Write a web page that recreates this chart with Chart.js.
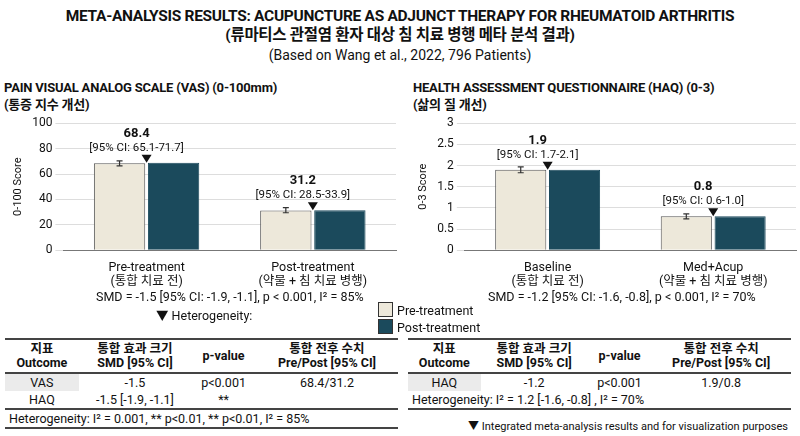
<!DOCTYPE html>
<html><head><meta charset="utf-8">
<script src="https://cdn.jsdelivr.net/npm/chart.js@4"></script>
<style>
body{margin:0;width:800px;height:436px;background:#fff;font-family:"Roboto","Noto Sans CJK KR",sans-serif;color:#111;position:relative;overflow:hidden}
.abs{position:absolute}
h1{margin:0;font-size:15.5px;text-align:center;width:800px;line-height:19px;letter-spacing:-0.3px}
.sub{font-size:14px;text-align:center;width:800px}
.ct{font-weight:bold;font-size:13px;line-height:17px;letter-spacing:-0.2px}
table{border-collapse:collapse;font-size:12.5px;text-align:center}
th{font-weight:bold;line-height:14px;padding:2px 0;border-top:2px solid #444;border-bottom:2px solid #444}
td{padding:0;height:17px}
.g{background:#ebebeb}
.foot{border-top:2px solid #444;border-bottom:2px solid #444;text-align:left;padding-left:4px}
.lg{display:inline-block;width:13px;height:13px;border:1px solid #333;vertical-align:-2px;margin-right:4px}
</style></head><body>
<div class="abs" style="top:7px"><h1>META-ANALYSIS RESULTS: ACUPUNCTURE AS ADJUNCT THERAPY FOR RHEUMATOID ARTHRITIS<br>(류마티스 관절염 환자 대상 침 치료 병행 메타 분석 결과)</h1></div>
<div class="abs sub" style="top:47px">(Based on Wang et al., 2022, 796 Patients)</div>
<div class="abs ct" style="left:4px;top:79px">PAIN VISUAL ANALOG SCALE (VAS) (0-100mm)<br>(통증 지수 개선)</div>
<div class="abs ct" style="left:413px;top:79px">HEALTH ASSESSMENT QUESTIONNAIRE (HAQ) (0-3)<br>(삶의 질 개선)</div>
<div class="abs" style="left:0;top:113px;width:400px;height:178px"><canvas id="vas"></canvas></div>
<div class="abs" style="left:405px;top:113px;width:395px;height:178px"><canvas id="haq"></canvas></div>
<div class="abs" style="left:96px;top:289px;font-size:12.5px">SMD = -1.5 [95% CI: -1.9, -1.1], p &lt; 0.001, I² = 85%</div>
<div class="abs" style="left:156px;top:305px;font-size:12.5px">▼ Heterogeneity:</div>
<div class="abs" style="left:488px;top:289px;font-size:12.5px">SMD = -1.2 [95% CI: -1.6, -0.8], p &lt; 0.001, I² = 70%</div>
<div class="abs" style="left:378px;top:302px;font-size:12.5px;line-height:17px"><span class="lg" style="background:#ede8da"></span>Pre-treatment<br><span class="lg" style="background:#1b4a5c"></span>Post-treatment</div>
<table class="abs" style="left:5px;top:338px;width:393px">
<tr><th>지표<br>Outcome</th><th>통합 효과 크기<br>SMD [95% CI]</th><th>p-value</th><th>통합 전후 수치<br>Pre/Post [95% CI]</th></tr>
<tr><td class="g">VAS</td><td>-1.5</td><td>p&lt;0.001</td><td>68.4/31.2</td></tr>
<tr><td>HAQ</td><td>-1.5 [-1.9, -1.1]</td><td>**</td><td></td></tr>
<tr><td colspan="4" class="foot">Heterogeneity: I² = 0.001, ** p&lt;0.01, ** p&lt;0.01, I² = 85%</td></tr>
</table>
<table class="abs" style="left:408px;top:338px;width:383px">
<tr><th>지표<br>Outcome</th><th>통합 효과 크기<br>SMD [95% CI]</th><th>p-value</th><th>통합 전후 수치<br>Pre/Post [95% CI]</th></tr>
<tr><td class="g">HAQ</td><td>-1.2</td><td>p&lt;0.001</td><td>1.9/0.8</td></tr>
<tr><td colspan="4" style="text-align:left;padding-left:4px;border-bottom:2px solid #444">Heterogeneity: I² = 1.2 [-1.6, -0.8] , I² = 70%</td></tr>
</table>
<div class="abs" style="right:12px;top:417px;font-size:11px">▼ Integrated meta-analysis results and for visualization purposes</div>
<script>
const vasCategories = [['Pre-treatment', '(통합 치료 전)'], ['Post-treatment', '(약물 + 침 치료 병행)']];
const haqCategories = [['Baseline', '(통합 치료 전)'], ['Med+Acup', '(약물 + 침 치료 병행)']];
const vasPre = [68.4, 31.2];
const vasPost = [68.8, 31.5];
const vasErr = [[66.4, 70.4], [29.5, 33.5]];
const vasLabels = ['68.4', '31.2'];
const vasCI = ['[95% CI: 65.1-71.7]', '[95% CI: 28.5-33.9]'];
const haqPre = [1.9, 0.8];
const haqPost = [1.9, 0.8];
const haqErr = [[1.83, 1.97], [0.74, 0.86]];
const haqLabels = ['1.9', '0.8'];
const haqCI = ['[95% CI: 1.7-2.1]', '[95% CI: 0.6-1.0]'];
const FONT = 'Roboto, "Noto Sans CJK KR", sans-serif';

const annot = {
  id: 'annot',
  afterDatasetsDraw(chart, args, o) {
    const ctx = chart.ctx, y = chart.scales.y;
    const m0 = chart.getDatasetMeta(0), m1 = chart.getDatasetMeta(1);
    ctx.save();
    ctx.strokeStyle = '#333'; ctx.lineWidth = 1.2;
    m0.data.forEach((b, i) => {
      const lo = y.getPixelForValue(o.err[i][0]), hi = y.getPixelForValue(o.err[i][1]);
      ctx.beginPath();
      ctx.moveTo(b.x, lo); ctx.lineTo(b.x, hi);
      ctx.moveTo(b.x - 3, lo); ctx.lineTo(b.x + 3, lo);
      ctx.moveTo(b.x - 3, hi); ctx.lineTo(b.x + 3, hi);
      ctx.stroke();
      const mx = (b.x + m1.data[i].x) / 2, ty = Math.min(b.y, m1.data[i].y);
      ctx.fillStyle = '#111';
      ctx.beginPath(); ctx.moveTo(mx - 5, ty - 8); ctx.lineTo(mx + 5, ty - 8); ctx.lineTo(mx, ty); ctx.fill();
      ctx.textAlign = 'center';
      ctx.font = '11.5px ' + FONT;
      ctx.fillText(o.ci[i], mx - 10, ty - 12);
      ctx.font = 'bold 13px ' + FONT;
      ctx.fillText(o.labels[i], mx - 10, ty - 26);
    });
    ctx.restore();
  }
};

function makeChart(id, cats, pre, post, max, step, title, err, labels, ci) {
  new Chart(document.getElementById(id), {
    type: 'bar',
    data: {
      labels: cats,
      datasets: [
        { label: 'Pre-treatment', data: pre, backgroundColor: '#ede8da', borderColor: '#555', borderWidth: 1 },
        { label: 'Post-treatment', data: post, backgroundColor: '#1b4a5c', borderColor: '#1b4a5c', borderWidth: 1 }
      ]
    },
    options: {
      responsive: true, maintainAspectRatio: false, animation: false,
      categoryPercentage: 0.65, barPercentage: 0.95,
      layout: { padding: { top: 2, right: 4, left: 8 } },
      plugins: { legend: { display: false }, tooltip: { enabled: false }, annot: { err: err, labels: labels, ci: ci } },
      scales: {
        x: { grid: { display: false }, border: { color: '#777' },
             ticks: { color: '#111', padding: 2, font: { family: FONT, size: 12.5, lineHeight: 1.15 } } },
        y: { min: 0, max: max,
             ticks: { stepSize: step, color: '#111', font: { family: FONT, size: 12 }, callback: v => String(v) },
             grid: { color: '#ddd' }, border: { display: false },
             title: { display: true, text: title, color: '#111', font: { family: FONT, size: 11 } } }
      }
    },
    plugins: [annot]
  });
}
makeChart('vas', vasCategories, vasPre, vasPost, 100, 20, '0-100 Score', vasErr, vasLabels, vasCI);
makeChart('haq', haqCategories, haqPre, haqPost, 3, 0.5, '0-3 Score', haqErr, haqLabels, haqCI);
</script>
</body></html>
